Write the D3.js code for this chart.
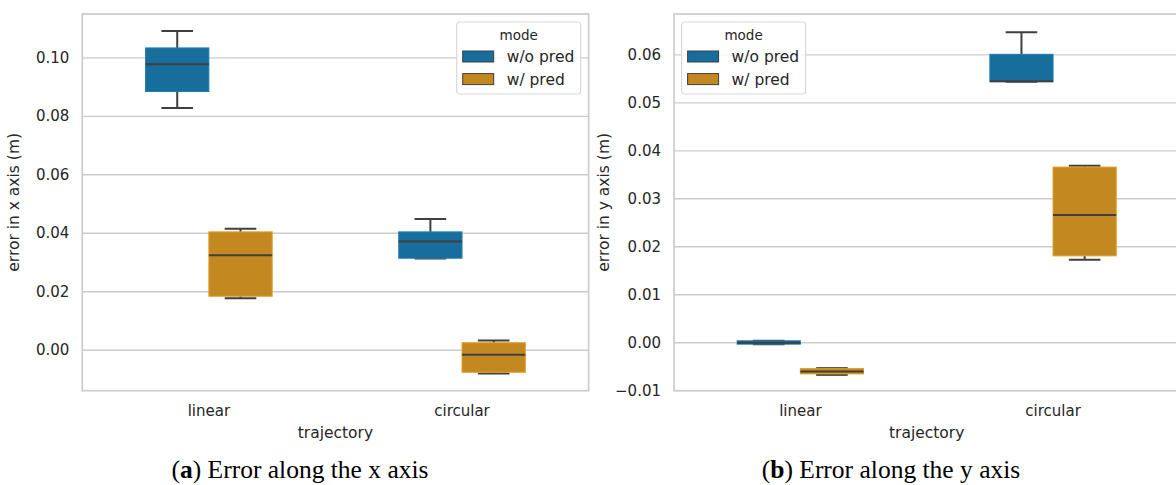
<!DOCTYPE html>
<html>
<head>
<meta charset="utf-8">
<script src="https://cdn.jsdelivr.net/npm/d3@7"></script>
<style>
    body { margin: 0; background: #ffffff; }
    svg text { font-family: "DejaVu Sans", sans-serif; fill: #262626; }
    .caption { font-family: "Liberation Serif", serif; fill: #000000; }
</style>
</head>
<body>
<script>
// Categories and hue levels
const trajectories = ["linear", "circular"];
const modes = ["w/o pred", "w/ pred"];

// Box statistics, order: linear w/o, linear w/, circular w/o, circular w/
const xWhiskLo = [0.0827, 0.0176, 0.0312, -0.0081];
const xQ1      = [0.0883, 0.0183, 0.0313, -0.0077];
const xMed     = [0.0976, 0.0323, 0.0370, -0.0017];
const xQ3      = [0.1032, 0.0403, 0.0403, 0.0024];
const xWhiskHi = [0.1090, 0.0414, 0.0447, 0.0032];

const yWhiskLo = [-0.0004, -0.0068, 0.0543, 0.0172];
const yQ1      = [-0.0004, -0.0066, 0.0543, 0.0180];
const yMed     = [-0.0001, -0.0061, 0.0544, 0.0265];
const yQ3      = [0.0003, -0.0055, 0.0600, 0.0365];
const yWhiskHi = [0.0003, -0.0054, 0.0646, 0.0368];

// Tick values
const xTicks = [0.00, 0.02, 0.04, 0.06, 0.08, 0.10];
const yTicks = [-0.01, 0.00, 0.01, 0.02, 0.03, 0.04, 0.05, 0.06];

const width = 1176, height = 485;
const colors = ["#176e9c", "#c38820"];
const lineGray = "#3f3f3f";

const svg = d3.select("body")
    .append("svg")
    .attr("width", width)
    .attr("height", height);

/**
 * Draws one boxplot panel
 */
function drawPanel(opt){
    const g = svg.append("g");

    let x = d3.scaleBand()
        .domain(trajectories)
        .range([opt.left, opt.right]);

    // each box gets a quarter of the band
    let hue = d3.scaleBand()
        .domain(modes)
        .range([-x.bandwidth() * 0.25, x.bandwidth() * 0.25]);

    let y = d3.scaleLinear()
        .domain(opt.domain)
        .range([opt.bottom, opt.top]);

    // grid lines + tick labels
    let yAxis = d3.axisLeft(y)
        .tickValues(opt.ticks)
        .tickFormat(d3.format(".2f"))
        .tickSize(-(opt.right - opt.left))
        .tickPadding(13);

    g.append("g")
        .attr("transform", "translate(" + opt.left + ",0)")
        .call(yAxis)
        .call(a => a.select(".domain").remove())
        .call(a => a.selectAll("line").attr("stroke", "#cccccc").attr("stroke-width", 1.3))
        .call(a => a.selectAll("text").style("font-size", "15px").attr("fill", "#262626"));

    // frame
    g.append("rect")
        .attr("x", opt.left)
        .attr("y", opt.top)
        .attr("width", opt.right - opt.left)
        .attr("height", opt.bottom - opt.top)
        .attr("fill", "none")
        .attr("stroke", "#cccccc")
        .attr("stroke-width", 1.7);

    // x tick labels
    g.selectAll(".xlab")
        .data(trajectories)
        .enter().append("text")
        .attr("x", d => x(d) + x.bandwidth() / 2)
        .attr("y", opt.bottom + 25)
        .attr("text-anchor", "middle")
        .style("font-size", "15px")
        .text(d => d);

    // boxes
    let boxes = [];
    trajectories.forEach((t, i) => {
        modes.forEach((m, j) => {
            let k = i * 2 + j;
            boxes.push({t: t, m: m, j: j, lo: opt.lo[k], q1: opt.q1[k], med: opt.med[k], q3: opt.q3[k], hi: opt.hi[k]});
        });
    });

    let bw = hue.bandwidth();
    let box = g.selectAll(".box")
        .data(boxes)
        .enter().append("g")
        .attr("class", "box")
        .attr("transform", d => "translate(" + (x(d.t) + x.bandwidth() / 2 + hue(d.m)) + ",0)");

    // whiskers
    box.append("line")
        .attr("x1", bw / 2).attr("x2", bw / 2)
        .attr("y1", d => y(d.hi)).attr("y2", d => y(d.q3))
        .attr("stroke", lineGray).attr("stroke-width", 2);
    box.append("line")
        .attr("x1", bw / 2).attr("x2", bw / 2)
        .attr("y1", d => y(d.q1)).attr("y2", d => y(d.lo))
        .attr("stroke", lineGray).attr("stroke-width", 2);

    // caps
    box.append("line")
        .attr("x1", bw / 4).attr("x2", bw * 3 / 4)
        .attr("y1", d => y(d.hi)).attr("y2", d => y(d.hi))
        .attr("stroke", lineGray).attr("stroke-width", 2);
    box.append("line")
        .attr("x1", bw / 4).attr("x2", bw * 3 / 4)
        .attr("y1", d => y(d.lo)).attr("y2", d => y(d.lo))
        .attr("stroke", lineGray).attr("stroke-width", 2);

    // the box itself
    box.append("rect")
        .attr("x", 0)
        .attr("width", bw)
        .attr("y", d => y(d.q3))
        .attr("height", d => Math.max(y(d.q1) - y(d.q3), 1))
        .attr("fill", d => colors[d.j])
        .attr("stroke", d => d3.color(colors[d.j]).brighter(0.4))
        .attr("stroke-width", 1);

    // median
    box.append("line")
        .attr("x1", 0).attr("x2", bw)
        .attr("y1", d => y(d.med)).attr("y2", d => y(d.med))
        .attr("stroke", lineGray).attr("stroke-width", 2);

    // axis titles
    g.append("text")
        .attr("x", (opt.left + opt.right) / 2)
        .attr("y", opt.bottom + 47)
        .attr("text-anchor", "middle")
        .style("font-size", "15.5px")
        .text("trajectory");

    g.append("text")
        .attr("transform", "translate(" + opt.ylabX + "," + (opt.top + opt.bottom) / 2 + ") rotate(-90)")
        .attr("text-anchor", "middle")
        .style("font-size", "15.5px")
        .text(opt.ylabel);

    // legend
    let leg = g.append("g")
        .attr("transform", "translate(" + opt.legX + "," + (opt.top + 8) + ")");
    leg.append("rect")
        .attr("width", 124).attr("height", 72)
        .attr("rx", 3)
        .attr("fill", "#ffffff").attr("fill-opacity", 0.8)
        .attr("stroke", "#d9d9d9").attr("stroke-width", 1.2);
    leg.append("text")
        .attr("x", 62).attr("y", 18)
        .attr("text-anchor", "middle")
        .style("font-size", "13.5px")
        .text("mode");
    let item = leg.selectAll(".item")
        .data(modes)
        .enter().append("g")
        .attr("transform", (d, i) => "translate(6," + (29 + i * 22.6) + ")");
    item.append("rect")
        .attr("width", 31).attr("height", 11)
        .attr("fill", (d, i) => colors[i])
        .attr("stroke", lineGray).attr("stroke-width", 1);
    item.append("text")
        .attr("x", 44).attr("y", 11)
        .style("font-size", "15.5px")
        .text(d => d);

    // caption
    let cap = g.append("text")
        .attr("class", "caption")
        .attr("x", opt.capX)
        .attr("y", 478)
        .attr("text-anchor", "middle")
        .style("font-size", "25.5px");
    cap.append("tspan").text("(");
    cap.append("tspan").attr("font-weight", "bold").text(opt.capLetter);
    cap.append("tspan").text(") " + opt.caption);
}

drawPanel({
    left: 82.3, right: 588.6, top: 14, bottom: 390.7,
    domain: [-0.0140, 0.1148], ticks: xTicks,
    lo: xWhiskLo, q1: xQ1, med: xMed, q3: xQ3, hi: xWhiskHi,
    ylabel: "error in x axis (m)", ylabX: 19,
    legX: 456.7,
    capX: 300, capLetter: "a", caption: "Error along the x axis"
});

drawPanel({
    left: 674, right: 1179.4, top: 14, bottom: 390.7,
    domain: [-0.0101, 0.0684], ticks: yTicks,
    lo: yWhiskLo, q1: yQ1, med: yMed, q3: yQ3, hi: yWhiskHi,
    ylabel: "error in y axis (m)", ylabX: 609,
    legX: 681.6,
    capX: 891, capLetter: "b", caption: "Error along the y axis"
});
</script>
</body>
</html>
